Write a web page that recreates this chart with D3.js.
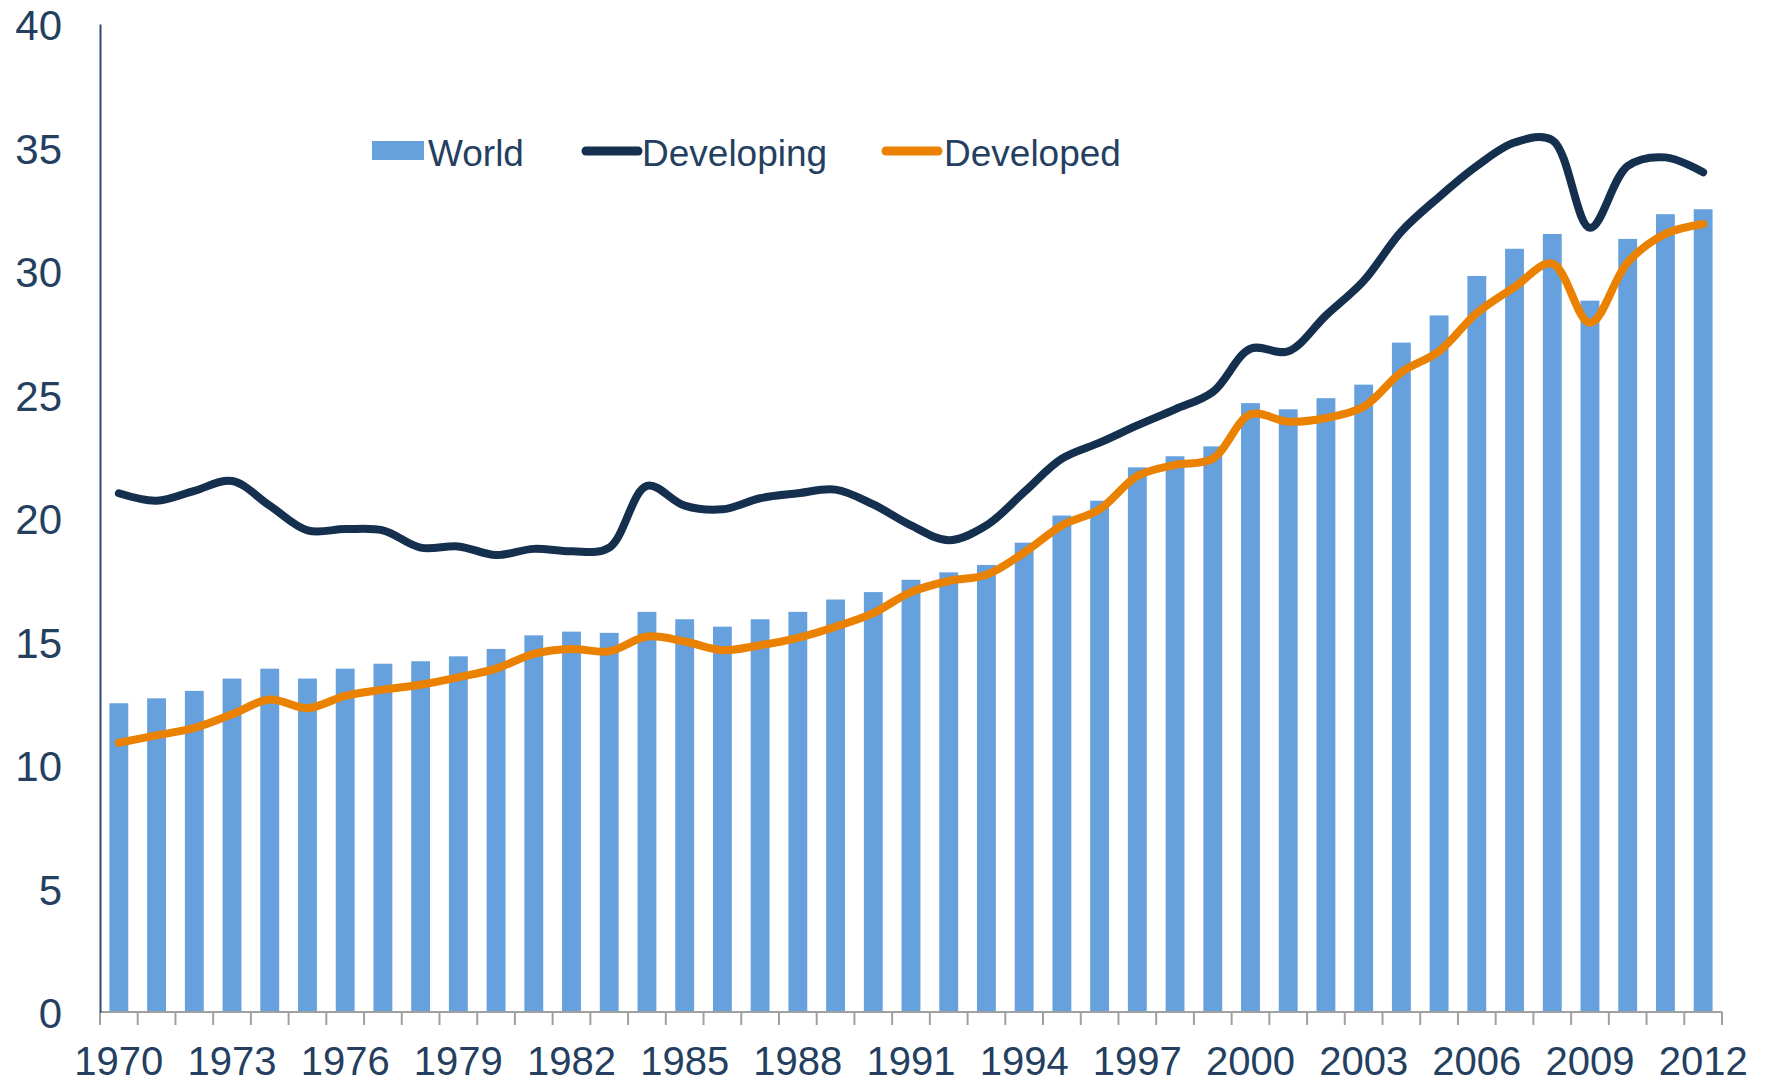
<!DOCTYPE html>
<html>
<head>
<meta charset="utf-8">
<script src="https://cdn.jsdelivr.net/npm/d3@7"></script>
<style>
body { margin: 0; background: #fff; }
text { font-family: "Liberation Sans", Arial, sans-serif; }
</style>
</head>
<body>
<svg id="chart" width="1767" height="1084"></svg>
<script>
(() => {

// data
const years = [1970, 1971, 1972, 1973, 1974, 1975, 1976, 1977, 1978, 1979,
    1980, 1981, 1982, 1983, 1984, 1985, 1986, 1987, 1988, 1989,
    1990, 1991, 1992, 1993, 1994, 1995, 1996, 1997, 1998, 1999,
    2000, 2001, 2002, 2003, 2004, 2005, 2006, 2007, 2008, 2009,
    2010, 2011, 2012];

const world = [12.5, 12.7, 13.0, 13.5, 13.9, 13.5, 13.9, 14.1, 14.2, 14.4,
    14.7, 15.25, 15.4, 15.35, 16.2, 15.9, 15.6, 15.9, 16.2, 16.7,
    17.0, 17.5, 17.8, 18.1, 19.0, 20.1, 20.7, 22.05, 22.5, 22.9,
    24.65, 24.4, 24.85, 25.4, 27.1, 28.2, 29.8, 30.9, 31.5, 28.8,
    31.3, 32.3, 32.5];

const developing = [21.0, 20.7, 21.1, 21.5, 20.5, 19.5, 19.55, 19.5, 18.8, 18.85,
    18.5, 18.75, 18.65, 18.8, 21.3, 20.5, 20.35, 20.8, 21.0, 21.15,
    20.55, 19.7, 19.1, 19.7, 21.05, 22.4, 23.05, 23.75, 24.4, 25.1,
    26.85, 26.75, 28.2, 29.6, 31.6, 33.0, 34.25, 35.2, 35.3, 31.75,
    34.25, 34.6, 34.0];

const developed = [10.9, 11.2, 11.5, 12.05, 12.65, 12.3, 12.8, 13.05, 13.25, 13.55,
    13.9, 14.5, 14.7, 14.6, 15.2, 15.0, 14.65, 14.85, 15.15, 15.6,
    16.15, 17.0, 17.45, 17.7, 18.6, 19.7, 20.35, 21.7, 22.15, 22.4,
    24.2, 23.9, 24.05, 24.5, 25.9, 26.75, 28.3, 29.35, 30.3, 27.9,
    30.35, 31.5, 31.9];

const y_ticks = [0, 5, 10, 15, 20, 25, 30, 35, 40];
const x_labels = [1970, 1973, 1976, 1979, 1982, 1985, 1988, 1991, 1994, 1997,
    2000, 2003, 2006, 2009, 2012];

const series_names = ['World', 'Developing', 'Developed'];

// chart parameters
const plot_left = 100;
const plot_right = 1722;
const plot_top = 24;
const plot_bottom = 1012;

const text_color = '#243f60';
const bar_color = '#66a1dd';
const developing_color = '#15304f';
const developed_color = '#eb8100';

let svg = d3.select('#chart');

// scales
let x_scale = d3.scaleBand()
    .domain(years)
    .range([plot_left, plot_right])
    .paddingInner(0.5)
    .paddingOuter(0.25);

let y_scale = d3.scaleLinear()
    .domain([0, 40])
    .range([plot_bottom, plot_top]);

// bars
svg.append('g')
    .selectAll('rect')
    .data(years)
    .enter()
    .append('rect')
    .attr('x', (d) => x_scale(d))
    .attr('y', (d, i) => y_scale(world[i]))
    .attr('width', x_scale.bandwidth())
    .attr('height', (d, i) => y_scale(0) - y_scale(world[i]))
    .attr('fill', bar_color);

// lines
let line = d3.line()
    .x((d, i) => x_scale(years[i]) + x_scale.bandwidth() / 2)
    .y((d) => y_scale(d))
    .curve(d3.curveCatmullRom);

svg.append('path')
    .datum(developing)
    .attr('d', line)
    .attr('fill', 'none')
    .attr('stroke', developing_color)
    .attr('stroke-width', 8)
    .attr('stroke-linecap', 'round');

svg.append('path')
    .datum(developed)
    .attr('d', line)
    .attr('fill', 'none')
    .attr('stroke', developed_color)
    .attr('stroke-width', 8)
    .attr('stroke-linecap', 'round');

// x axis: ticks at band boundaries, labels every third year
let step = x_scale.step();
let x_axis_g = svg.append('g');

x_axis_g.append('line')
    .attr('x1', plot_left).attr('x2', plot_right)
    .attr('y1', plot_bottom).attr('y2', plot_bottom)
    .attr('stroke', '#a0a0a0')
    .attr('stroke-width', 2);

x_axis_g.selectAll('.tick')
    .data(years.concat([null]))
    .enter()
    .append('line')
    .attr('x1', (d, i) => plot_left + i * step)
    .attr('x2', (d, i) => plot_left + i * step)
    .attr('y1', plot_bottom)
    .attr('y2', plot_bottom + 13)
    .attr('stroke', '#a0a0a0')
    .attr('stroke-width', 2);

x_axis_g.selectAll('.label')
    .data(x_labels)
    .enter()
    .append('text')
    .attr('x', (d) => x_scale(d) + x_scale.bandwidth() / 2)
    .attr('y', 1075)
    .attr('text-anchor', 'middle')
    .attr('fill', text_color)
    .style('font-size', '40px')
    .text((d) => d);

// y axis
let y_axis = d3.axisLeft(y_scale)
    .tickValues(y_ticks)
    .tickSize(0)
    .tickPadding(38);

let y_axis_g = svg.append('g')
    .attr('transform', `translate(${plot_left}, 0)`)
    .call(y_axis);

y_axis_g.select('.domain')
    .attr('stroke', '#2c4a6e')
    .attr('stroke-width', 2);

y_axis_g.selectAll('text')
    .attr('fill', text_color)
    .attr('dy', '0.38em')
    .style('font-size', '42px')
    .style('font-family', '"Liberation Sans", Arial, sans-serif');

// legend
let legend = svg.append('g').attr('transform', 'translate(372, 151)');

legend.append('rect')
    .attr('x', 0).attr('y', -10)
    .attr('width', 52).attr('height', 19)
    .attr('fill', bar_color);

legend.append('line')
    .attr('x1', 214).attr('x2', 266)
    .attr('y1', 0).attr('y2', 0)
    .attr('stroke', developing_color)
    .attr('stroke-width', 9)
    .attr('stroke-linecap', 'round');

legend.append('line')
    .attr('x1', 514).attr('x2', 566)
    .attr('y1', 0).attr('y2', 0)
    .attr('stroke', developed_color)
    .attr('stroke-width', 9)
    .attr('stroke-linecap', 'round');

let legend_x = [56, 270, 572];
legend.selectAll('.legend_text')
    .data(series_names)
    .enter()
    .append('text')
    .attr('x', (d, i) => legend_x[i])
    .attr('y', 2)
    .attr('dy', '0.35em')
    .attr('fill', text_color)
    .style('font-size', '37px')
    .text((d) => d);

})();
</script>
</body>
</html>
